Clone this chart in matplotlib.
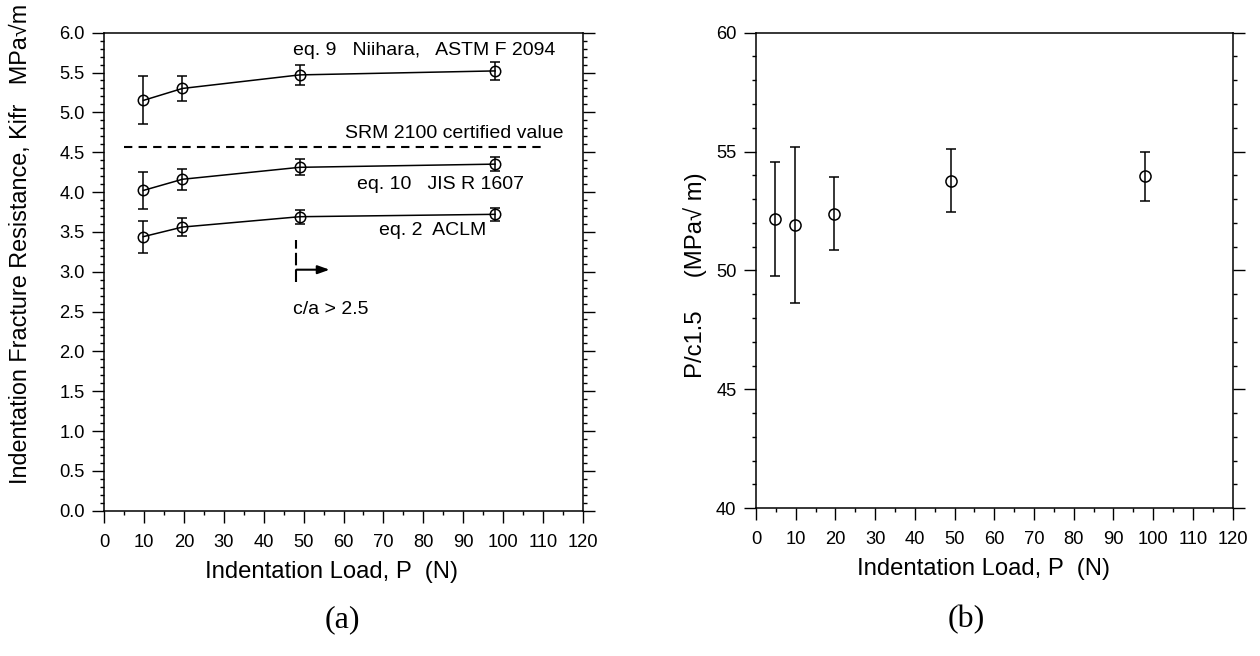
import numpy as np
import matplotlib
matplotlib.use("Agg")
from matplotlib import pyplot as plt
from matplotlib.ticker import MultipleLocator, FormatStrFormatter

plt.rcParams['font.family'] = ['Liberation Sans', 'DejaVu Sans']

# panel (a): indentation fracture resistance vs load
load_a = [9.8, 19.6, 49.0, 98.0]
kifr_eq9 = [5.15, 5.30, 5.47, 5.52]
err_eq9 = [0.30, 0.16, 0.13, 0.11]
kifr_eq10 = [4.02, 4.16, 4.31, 4.35]
err_eq10 = [0.23, 0.13, 0.10, 0.085]
kifr_eq2 = [3.44, 3.56, 3.69, 3.72]
err_eq2 = [0.20, 0.11, 0.09, 0.08]
srm_value = 4.57
srm_span = [5, 110]

# panel (b): P/c^1.5 vs load
load_b = [4.9, 9.8, 19.6, 49.0, 98.0]
p_c15 = [52.18, 51.90, 52.39, 53.78, 53.96]
err_p_c15 = [2.40, 3.28, 1.55, 1.33, 1.03]

TICK_FS = 13.2
LABEL_FS = 17.2
NOTE_FS = 14


def style_axes(ax, xmax, ymin, ymax, ymajor, yminor):
    ax.set_xlim(0, xmax)
    ax.set_ylim(ymin, ymax)
    ax.xaxis.set_major_locator(MultipleLocator(10))
    ax.xaxis.set_minor_locator(MultipleLocator(5))
    ax.yaxis.set_major_locator(MultipleLocator(ymajor))
    ax.yaxis.set_minor_locator(MultipleLocator(yminor))
    ax.tick_params(which='both', direction='out', top=False, right=True,
                   width=1.0, color='black')
    ax.tick_params(which='major', length=8.6)
    ax.tick_params(which='minor', length=3.2)
    ax.tick_params(axis='x', which='major', pad=8, labelsize=TICK_FS)
    ax.tick_params(axis='y', which='major', pad=5.5, labelsize=TICK_FS)
    for sp in ax.spines.values():
        sp.set_linewidth(1.1)


fig = plt.figure(figsize=(12.6, 6.56), dpi=100)
ax1 = fig.add_axes([0.0828, 0.2215, 0.3797, 0.7287])
ax2 = fig.add_axes([0.600, 0.2252, 0.3783, 0.7250])

# ---- panel (a)
style_axes(ax1, 120, 0, 6.0, 0.5, 0.1)
ax1.yaxis.set_major_formatter(FormatStrFormatter('%.1f'))
eb_kw = dict(color='black', marker='o', markersize=7.5, markerfacecolor='none',
             markeredgecolor='black', markeredgewidth=1.1, linewidth=1.1,
             elinewidth=1.1, capsize=3.3, capthick=1.1)
ax1.errorbar(load_a, kifr_eq9, yerr=err_eq9, **eb_kw)
ax1.errorbar(load_a, kifr_eq10, yerr=err_eq10, **eb_kw)
ax1.errorbar(load_a, kifr_eq2, yerr=err_eq2, **eb_kw)
ax1.plot(srm_span, [srm_value, srm_value], color='black', linestyle=(0, (4, 3)),
         linewidth=1.5)
ax1.text(47.2, 5.77, 'eq. 9   Niihara,   ASTM F 2094', fontsize=NOTE_FS, va='center')
ax1.text(60.3, 4.73, 'SRM 2100 certified value', fontsize=NOTE_FS, va='center')
ax1.text(63.4, 4.10, 'eq. 10   JIS R 1607', fontsize=NOTE_FS, va='center')
ax1.text(69.0, 3.52, 'eq. 2  ACLM', fontsize=NOTE_FS, va='center')
ax1.text(47.2, 2.53, 'c/a > 2.5', fontsize=NOTE_FS, va='center')
ax1.plot([48.2, 48.2], [2.87, 3.40], color='black', linestyle=(0, (6, 2)),
         linewidth=1.5)
ax1.annotate('', xy=(56.5, 3.025), xytext=(48.2, 3.025),
             arrowprops=dict(arrowstyle='-|>,head_length=0.7,head_width=0.25',
                             color='black', linewidth=1.5, shrinkA=0, shrinkB=0))
ax1.set_xlabel('Indentation Load, P  (N)', fontsize=LABEL_FS)
ax1.xaxis.set_label_coords(0.474, -0.105)
ax1.set_ylabel('Indentation Fracture Resistance, Kifr   MPa\u221am',
               fontsize=16.8)
ax1.yaxis.set_label_coords(-0.151, 0.558)

# ---- panel (b)
style_axes(ax2, 120, 40, 60, 5, 1)
ax2.errorbar(load_b, p_c15, yerr=err_p_c15, color='black', marker='o',
             markersize=8, markerfacecolor='none', markeredgecolor='black',
             markeredgewidth=1.1, linestyle='none', elinewidth=1.1,
             capsize=3.3, capthick=1.1)
ax2.set_xlabel('Indentation Load, P  (N)', fontsize=LABEL_FS)
ax2.xaxis.set_label_coords(0.478, -0.105)
ax2.set_ylabel('P/c1.5     (MPa\u221a m)', fontsize=LABEL_FS)
ax2.yaxis.set_label_coords(-0.103, 0.4905)

fig.text(0.2714, 0.0549, '(a)', fontsize=23, family='Liberation Serif',
         ha='center', va='center')
fig.text(0.7667, 0.0549, '(b)', fontsize=23, family='Liberation Serif',
         ha='center', va='center')

fig.savefig('out.png', dpi=100)
